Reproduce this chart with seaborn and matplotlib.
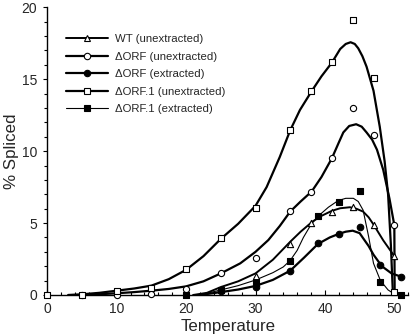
import matplotlib
matplotlib.use("Agg")
import matplotlib.pyplot as plt
import seaborn as sns
from matplotlib.lines import Line2D
from matplotlib.ticker import MultipleLocator

# ---- data ----
labels = ["WT (unextracted)", "\u0394ORF (unextracted)", "\u0394ORF (extracted)",
          "\u0394ORF.1 (unextracted)", "\u0394ORF.1 (extracted)"]

# measured points
wt_x = [25, 30, 35, 38, 41, 44, 47, 50]
wt_y = [0.4, 1.35, 3.55, 5.0, 5.8, 6.14, 4.87, 2.73]

orf_un_x = [5, 10, 15, 20, 25, 30, 35, 38, 41, 44, 47, 50]
orf_un_y = [0, 0, 0.1, 0.4, 1.5, 2.6, 5.84, 7.18, 9.5, 13.0, 11.1, 4.87]

orf_ex_x = [25, 30, 35, 39, 42, 45, 48, 51]
orf_ex_y = [0.25, 0.58, 1.69, 3.59, 4.22, 4.7, 2.1, 1.27]

orf1_un_x = [0, 5, 10, 15, 20, 25, 30, 35, 38, 41, 44, 47, 50]
orf1_un_y = [0, 0, 0.3, 0.5, 1.8, 3.94, 6.03, 11.47, 14.18, 16.2, 19.1, 15.1, 0.2]

orf1_ex_x = [20, 25, 30, 35, 39, 42, 45, 48, 51]
orf1_ex_y = [0, 0.38, 0.86, 2.36, 5.49, 6.49, 7.23, 0.93, 0]

# fitted curves
wt_fit_x = [21, 23, 25, 27.5, 30, 32.5, 35, 36.5, 38.2, 39.5, 41, 42.2, 43.6,
            44.5, 45.5, 46.3, 47, 48.4, 50]
wt_fit_y = [0, 0.15, 0.55, 0.95, 1.5, 2.45, 3.7, 4.4, 5.1, 5.5, 5.85, 6.03, 6.1,
            6.0, 5.8, 5.4, 4.9, 3.8, 2.7]

orf_un_fit_x = [5, 7.5, 10, 12.5, 15, 17.5, 20, 22.5, 25, 27.8, 30, 31.85, 33.5, 35,
                36.5, 38.1, 39.5, 41, 42, 42.65, 43.5, 44.5, 45.3, 46.0, 46.8, 47.5,
                48.4, 49.3, 50.0, 50.05]
orf_un_fit_y = [0, 0.05, 0.12, 0.2, 0.3, 0.42, 0.6, 0.95, 1.5, 2.2, 3.0, 3.82, 4.8, 5.8,
                6.5, 7.2, 8.2, 9.5, 10.6, 11.3, 11.75, 11.87, 11.7, 11.3, 10.8, 10.1,
                8.7, 6.7, 4.85, 0]

orf_ex_fit_x = [22, 25, 27.5, 30, 32.5, 35, 37, 39, 40.7, 42, 43, 44, 45, 45.5, 46.3,
                47, 48.2, 49.6, 51]
orf_ex_fit_y = [0, 0.2, 0.38, 0.63, 1.05, 1.69, 2.6, 3.55, 4.0, 4.25, 4.4, 4.47, 4.3,
                3.95, 3.4, 2.8, 2.0, 1.5, 1.27]

orf1_un_fit_x = [3, 5, 7.5, 10, 12.5, 15, 17.5, 20, 22.5, 25, 27.5, 30, 31.6, 33.5, 35,
                 36.4, 38.1, 39.5, 41, 42.2, 43.0, 43.7, 44.3, 44.8, 45.4, 46.0, 47.0,
                 47.9, 48.6, 49.1, 49.5, 49.8]
orf1_un_fit_y = [0, 0.05, 0.15, 0.3, 0.45, 0.65, 1.1, 1.75, 2.7, 3.9, 4.95, 6.2, 7.5,
                 9.6, 11.45, 12.86, 14.18, 15.2, 16.15, 17.1, 17.45, 17.57, 17.45,
                 17.15, 16.6, 15.87, 14.2, 11.7, 9.3, 7.0, 3.5, 0]

orf1_ex_fit_x = [22, 25, 27.5, 30, 32.5, 34, 35, 36, 36.9, 38, 39.05, 40.5, 41.9, 43,
                 44.1, 44.8, 45.5, 46.3, 47, 48, 49.1, 49.9]
orf1_ex_fit_y = [0, 0.35, 0.65, 1.04, 1.55, 1.95, 2.4, 3.1, 4.0, 4.9, 5.49, 6.1, 6.56,
                 6.72, 6.72, 6.5, 5.9, 4.05, 2.2, 1.0, 0.35, 0.1]

# ---- styling ----
sns.set_theme(style="ticks")
plt.rcParams["font.family"] = ["Liberation Sans", "DejaVu Sans"]
plt.rcParams["lines.solid_joinstyle"] = "round"

fig = plt.figure(figsize=(4.12, 3.34), dpi=100)
ax = fig.add_axes([0.1148, 0.1168, 0.876, 0.8614])

series = [
    (wt_x, wt_y, wt_fit_x, wt_fit_y, "^", "white", 1.4, 20),
    (orf_un_x, orf_un_y, orf_un_fit_x, orf_un_fit_y, "o", "white", 1.6, 20),
    (orf_ex_x, orf_ex_y, orf_ex_fit_x, orf_ex_fit_y, "o", "black", 1.6, 22),
    (orf1_un_x, orf1_un_y, orf1_un_fit_x, orf1_un_fit_y, "s", "white", 1.6, 20),
    (orf1_ex_x, orf1_ex_y, orf1_ex_fit_x, orf1_ex_fit_y, "s", "black", 0.8, 24),
]

handles = []
for (px, py, fx, fy, mk, fc, lw, s), lab in zip(series, labels):
    sns.lineplot(x=fx, y=fy, ax=ax, color="black", linewidth=lw,
                 estimator=None, sort=False, zorder=2)
    sns.scatterplot(x=px, y=py, ax=ax, marker=mk, s=s, color=fc,
                    edgecolor="black", linewidth=0.8, zorder=3, clip_on=False)
    handles.append(Line2D([0], [0], color="black", linewidth=lw, marker=mk,
                          markersize=4.6, markerfacecolor=fc,
                          markeredgecolor="black", markeredgewidth=0.8))

ax.set_xlim(0, 52)
ax.set_ylim(0, 20)
ax.xaxis.set_major_locator(MultipleLocator(10))
ax.xaxis.set_minor_locator(MultipleLocator(2))
ax.yaxis.set_major_locator(MultipleLocator(5))
ax.yaxis.set_minor_locator(MultipleLocator(1))
ax.tick_params(axis="x", which="major", direction="in", length=3.5, width=0.8,
               labelsize=10, pad=5, color="black")
ax.tick_params(axis="x", which="minor", direction="in", length=2.5, width=0.8, color="black")
ax.tick_params(axis="y", which="major", direction="out", length=3.2, width=0.8,
               labelsize=10, pad=4, color="black")
ax.tick_params(axis="y", which="minor", direction="out", length=2, width=0.8, color="black")
for sp in ["top", "right"]:
    ax.spines[sp].set_visible(False)
for sp in ["left", "bottom"]:
    ax.spines[sp].set_linewidth(1.0)
    ax.spines[sp].set_color("black")

ax.set_xlabel("Temperature", fontsize=12.2)
ax.xaxis.set_label_coords(0.5, -0.085)
ax.set_ylabel("% Spliced", fontsize=12.2)
ax.yaxis.set_label_coords(-0.078, 0.5)

ax.legend(handles=handles, labels=labels, loc="upper left",
          bbox_to_anchor=(66 / 412, 1 - 34 / 334), bbox_transform=fig.transFigure,
          frameon=False, fontsize=8.2, handlelength=3.7, handletextpad=0.6,
          labelspacing=0.66, borderpad=0, borderaxespad=0)

fig.savefig("out.png", dpi=100)
